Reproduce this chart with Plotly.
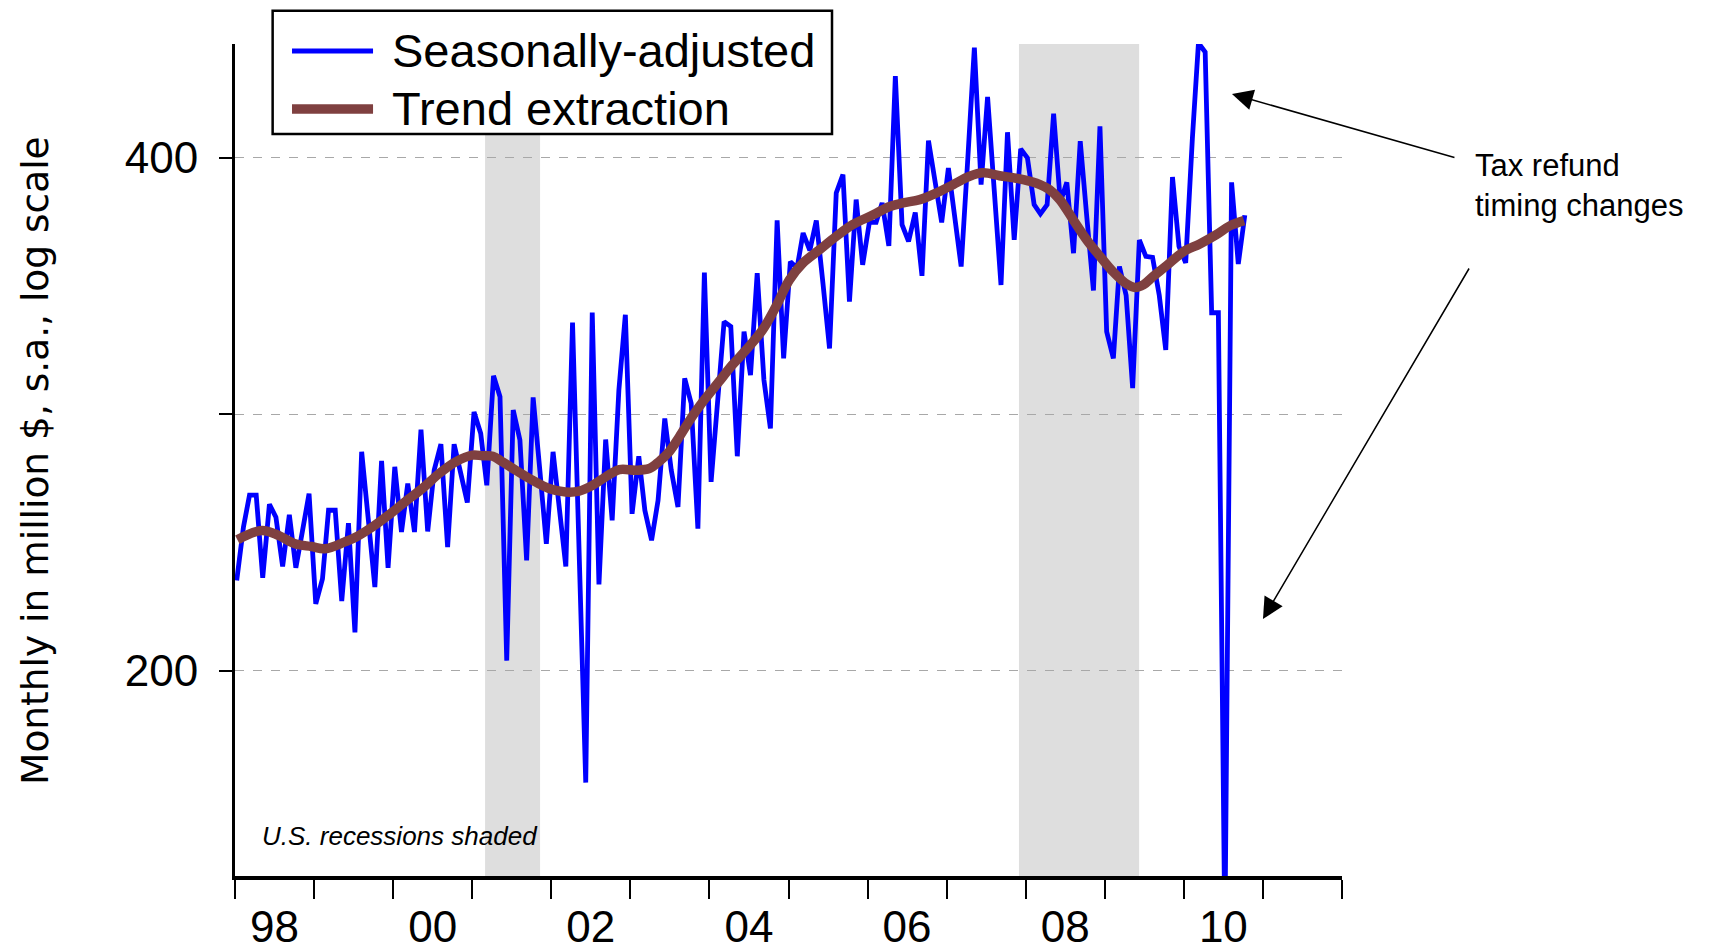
import pandas as pd
import plotly.graph_objects as go

# %%
# Monthly series, Jan 1998 - Oct 2010 (million $, s.a.)
start_month = "1998-01-01"
end_month = "2010-10-01"

seasonally_adjusted = [
    226.0, 242.9, 253.6, 253.6, 226.8, 250.5, 246.2, 230.3, 247.0, 229.9, 241.8, 254.1,
    219.0, 226.5, 248.5, 248.5, 219.8, 244.2, 210.7, 268.9, 245.2, 224.0, 265.6, 229.9,
    263.5, 241.3, 257.6, 241.3, 277.1, 241.5, 262.3, 271.7, 236.4, 271.7, 261.1, 251.1,
    283.8, 275.6, 257.0, 298.0, 289.7, 202.8, 284.5, 273.2, 232.2, 289.4, 262.3, 237.5,
    268.9, 248.5, 230.3, 320.2, 234.3, 172.0, 324.6, 224.8, 273.4, 245.1, 292.3, 323.6,
    247.3, 267.3, 248.5, 238.6, 251.8, 281.3, 262.3, 249.6, 297.0, 287.1, 242.4, 342.6,
    258.2, 289.7, 320.6, 318.5, 267.3, 316.3, 298.3, 342.3, 296.3, 277.5, 367.6, 305.1,
    347.7, 344.7, 361.4, 353.0, 367.6, 337.3, 309.2, 381.5, 391.1, 329.4, 378.1, 346.2,
    366.6, 366.6, 376.4, 355.2, 446.7, 365.5, 357.3, 371.6, 341.1, 409.5, 387.6, 366.6,
    394.6, 369.3, 345.4, 400.3, 464.2, 385.8, 434.3, 382.5, 336.9, 414.1, 358.1, 404.9,
    400.0, 375.5, 370.9, 375.5, 424.7, 376.7, 387.0, 351.7, 409.1, 369.6, 334.4, 417.5,
    316.3, 305.1, 345.4, 332.2, 293.1, 358.0, 350.2, 349.7, 332.2, 308.6, 389.8, 354.9,
    347.1, 410.9, 467.2, 461.5, 324.5, 324.5, 140.0, 387.0, 346.6, 370.2,
]

# trend extraction, read at decimal-year positions
trend_years = [
    1998.03, 1998.34, 1998.55, 1998.76, 1998.97, 1999.14, 1999.39, 1999.52, 1999.73, 1999.94,
    2000.15, 2000.37, 2000.58, 2000.79, 2001.00, 2001.13, 2001.26, 2001.38, 2001.55, 2001.76,
    2001.97, 2002.18, 2002.35, 2002.52, 2002.69, 2002.86, 2003.07, 2003.24, 2003.36, 2003.49,
    2003.62, 2003.78, 2003.95, 2004.12, 2004.29, 2004.46, 2004.67, 2004.84, 2005.01, 2005.18,
    2005.39, 2005.60, 2005.81, 2006.07, 2006.28, 2006.45, 2006.66, 2006.87, 2007.08, 2007.29,
    2007.46, 2007.67, 2007.97, 2008.18, 2008.30, 2008.43, 2008.60, 2008.77, 2008.94, 2009.10,
    2009.28, 2009.38, 2009.49, 2009.61, 2009.78, 2009.99, 2010.20, 2010.41, 2010.58, 2010.76,
]
trend_values = [
    238.8, 241.8, 240.2, 237.5, 236.6, 235.9, 238.1, 239.5, 242.8, 246.8,
    251.3, 255.9, 261.1, 265.3, 267.7, 267.5, 267.3, 265.3, 262.3, 258.8,
    255.9, 254.7, 255.0, 257.0, 260.0, 262.5, 262.3, 262.9, 265.3, 268.9,
    274.4, 281.9, 289.0, 295.6, 302.4, 308.5, 317.0, 327.2, 339.2, 347.0,
    353.3, 359.7, 365.5, 370.4, 374.6, 376.4, 378.1, 381.5, 385.8, 390.2,
    392.0, 390.5, 388.4, 385.8, 383.2, 378.1, 367.9, 358.1, 350.1, 343.1,
    337.2, 335.8, 337.1, 340.8, 345.8, 352.3, 356.1, 360.6, 364.9, 367.5,
]

recessions = [("2001-03-01", "2001-11-10"), ("2007-12-01", "2009-06-08")]

year_labels = ["98", "00", "02", "04", "06", "08", "10"]
label_years = [1998, 2000, 2002, 2004, 2006, 2008, 2010]
y_tick_values = [200, 282.84, 400]
y_tick_text = ["200", "", "400"]

BLUE = "#0000FF"
BROWN = "#7F4040"
FONT = "Liberation Sans, Arial, sans-serif"


def dec_to_date(y):
    """decimal year -> timestamp"""
    yr = int(y)
    start = pd.Timestamp(yr, 1, 1)
    end = pd.Timestamp(yr + 1, 1, 1)
    return start + (end - start) * (y - yr)


# %%
months = pd.date_range(start_month, end_month, freq="MS") + pd.Timedelta(days=8)
trend_dates = [dec_to_date(y) for y in trend_years]

fig = go.Figure()

for x0, x1 in recessions:
    fig.add_vrect(x0=x0, x1=x1, fillcolor="#DEDEDE", line_width=0, layer="below")

fig.add_trace(go.Scatter(
    x=months, y=seasonally_adjusted, mode="lines",
    line=dict(color=BLUE, width=4.8), name="Seasonally-adjusted", showlegend=False,
))
fig.add_trace(go.Scatter(
    x=trend_dates, y=trend_values, mode="lines",
    line=dict(color=BROWN, width=9.5, shape="spline", smoothing=1.0),
    name="Trend extraction", showlegend=False,
))

# %%
# hand-made legend box (long line samples like the original)
fig.add_shape(type="rect", xref="paper", yref="paper", x0=0.034, x1=0.5393, y0=0.8918, y1=1.040,
              line=dict(color="black", width=2.5), fillcolor="white", layer="above")
legend_rows = [("Seasonally-adjusted", BLUE, 4.8, 0.9916), ("Trend extraction", BROWN, 9.5, 0.9219)]
for label, color, width, ypos in legend_rows:
    fig.add_shape(type="line", xref="paper", yref="paper", x0=0.0515, x1=0.1247, y0=ypos, y1=ypos,
                  line=dict(color=color, width=width), layer="above")
    fig.add_annotation(text=label, xref="paper", yref="paper", x=0.140, y=ypos,
                       xanchor="left", yanchor="middle", showarrow=False,
                       font=dict(family=FONT, size=47, color="black"))

fig.add_annotation(text="Tax refund<br>timing changes", xref="paper", yref="paper",
                   x=1.1184, y=0.8305, xanchor="left", yanchor="middle", align="left",
                   showarrow=False, font=dict(family=FONT, size=31, color="black"))
for hx, hy, ax, ay in [(0.9006, 0.9399, 224, 64), (0.9286, 0.3089, 207, -352)]:
    fig.add_annotation(text="", xref="paper", yref="paper", x=hx, y=hy, ax=ax, ay=ay,
                       showarrow=True, arrowhead=2, arrowsize=2.8, arrowwidth=1.5,
                       arrowcolor="black")

fig.add_annotation(text="<i>U.S. recessions shaded</i>", xref="paper", yref="paper",
                   x=0.0222, y=0.0475, xanchor="left", yanchor="middle", showarrow=False,
                   font=dict(family=FONT, size=26, color="black"))

fig.add_annotation(text="Monthly in million $, s.a., log scale", xref="paper", yref="paper",
                   x=-0.1807, y=0.5, textangle=-90, xanchor="center", yanchor="middle",
                   showarrow=False, font=dict(family="DejaVu Sans, sans-serif", size=37.5, color="black"))

# %%
# page body adds an 8px offset, so the figure is 8px smaller than the window
fig.update_layout(
    width=1702, height=935,
    margin=dict(l=227, r=368, t=36, b=67),
    paper_bgcolor="white", plot_bgcolor="white",
    showlegend=False,
    font=dict(family=FONT, color="black"),
)
fig.update_xaxes(
    type="date",
    range=["1998-01-01", "2012-01-01"],
    automargin=False,
    tickmode="array",
    tickvals=[f"{y}-07-02" for y in label_years],
    ticktext=year_labels,
    ticks="outside", ticklen=2, tickcolor="rgba(0,0,0,0)",
    ticklabelstandoff=7,
    tickfont=dict(family=FONT, size=44, color="black"),
    showline=True, linecolor="black", linewidth=3.5,
    showgrid=False, zeroline=False,
    minor=dict(tickmode="array", tickvals=[f"{y}-01-01" for y in range(1998, 2013)],
               ticks="outside", ticklen=19, tickwidth=2, tickcolor="black", showgrid=False),
)
fig.update_yaxes(
    type="log",
    range=[2.1807, 2.6689],
    automargin=False,
    tickmode="array", tickvals=y_tick_values, ticktext=y_tick_text,
    ticks="outside", ticklen=13, tickwidth=2, tickcolor="black",
    ticklabelstandoff=12,
    tickfont=dict(family=FONT, size=44, color="black"),
    showline=True, linecolor="black", linewidth=3,
    showgrid=True, gridcolor="#A8A8A8", gridwidth=1.3, griddash="dash",
    zeroline=False,
)

fig.write_html("out.html")
